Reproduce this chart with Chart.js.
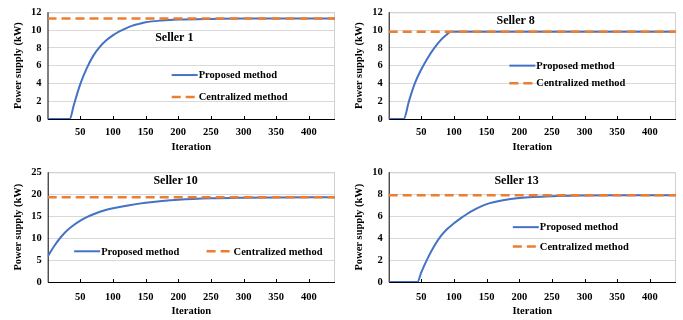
<!DOCTYPE html>
<html>
<head>
<meta charset="utf-8">
<script src="https://cdn.jsdelivr.net/npm/chart.js@4.4.1/dist/chart.umd.min.js"></script>
<style>
  html, body { margin: 0; padding: 0; background: #fff; }
  #wrap { position: relative; width: 683px; height: 320px; overflow: hidden; }
  .cell { position: absolute; }
</style>
</head>
<body>
<div id="wrap">
  <div class="cell" style="left:0;top:0;width:341px;height:160px"><canvas id="c1"></canvas></div>
  <div class="cell" style="left:341px;top:0;width:342px;height:160px"><canvas id="c8"></canvas></div>
  <div class="cell" style="left:0;top:160px;width:341px;height:160px"><canvas id="c10"></canvas></div>
  <div class="cell" style="left:341px;top:160px;width:342px;height:160px"><canvas id="c13"></canvas></div>
</div>
<script>
// - data ---------------------------------------------
const xTicks = [50, 100, 150, 200, 250, 300, 350, 400];
const xMax = 440;

const seller1Iter  = [0, 20, 34, 40, 50, 60, 70, 80, 90, 100, 110, 120, 130, 140, 150, 175, 200, 250, 300, 350, 400, 440];
const seller1Power = [0, 0, 0, 1.5, 3.9, 5.7, 7.1, 8.1, 8.85, 9.4, 9.85, 10.2, 10.5, 10.7, 10.88, 11.08, 11.18, 11.26, 11.3, 11.3, 11.3, 11.3];
const seller1Central = 11.3;

const seller8Iter  = [0, 12, 23, 31, 40, 50, 60, 70, 80, 88, 95, 150, 200, 300, 400, 440];
const seller8Power = [0, 0, 0, 2.0, 4.0, 5.6, 6.9, 8.0, 8.9, 9.45, 9.8, 9.8, 9.8, 9.8, 9.8, 9.8];
const seller8Central = 9.8;

const seller10Iter  = [0, 10, 20, 30, 40, 50, 60, 70, 80, 90, 100, 125, 150, 175, 200, 250, 300, 350, 400, 440];
const seller10Power = [5.8, 8.2, 10.2, 11.8, 13.0, 14.0, 14.8, 15.45, 16.0, 16.45, 16.8, 17.5, 18.05, 18.45, 18.75, 19.08, 19.22, 19.28, 19.3, 19.3];
const seller10Central = 19.3;

const seller13Iter  = [0, 30, 44, 50, 60, 70, 80, 90, 100, 110, 120, 130, 140, 150, 175, 200, 250, 300, 350, 400, 440];
const seller13Power = [0, 0, 0, 0.9, 2.2, 3.3, 4.2, 4.85, 5.35, 5.8, 6.2, 6.55, 6.85, 7.1, 7.45, 7.65, 7.82, 7.88, 7.9, 7.9, 7.9];
const seller13Central = 7.9;

const blue = '#4472C4';
const orange = '#ED7D31';
const fontFamily = '"Liberation Serif", "Times New Roman", serif';

// - plugins ------------------------------------------
// light box on top/right, black axes left/bottom, inward x ticks
const frameBox = {
  id: 'frameBox',
  beforeDatasetsDraw(chart) {
    const { ctx, chartArea: a, scales } = chart;
    ctx.save();
    ctx.strokeStyle = '#d0d0d0';
    ctx.lineWidth = 1;
    ctx.beginPath();
    ctx.moveTo(a.left, a.top + 0.5);
    ctx.lineTo(a.right - 0.5, a.top + 0.5);
    ctx.lineTo(a.right - 0.5, a.bottom);
    ctx.stroke();
    ctx.strokeStyle = '#000';
    ctx.lineWidth = 1;
    ctx.beginPath();
    ctx.moveTo(a.left + 0.5, a.top);
    ctx.lineTo(a.left + 0.5, a.bottom + 0.5);
    ctx.lineTo(a.right, a.bottom + 0.5);
    xTicks.forEach(v => {
      const x = Math.round(scales.x.getPixelForValue(v)) + 0.5;
      ctx.moveTo(x, a.bottom);
      ctx.lineTo(x, a.bottom - 3);
    });
    ctx.stroke();
    ctx.restore();
  }
};

// seller name + legend drawn inside the plot area
const insideText = {
  id: 'insideText',
  afterDraw(chart, args, opts) {
    const { ctx, chartArea: a } = chart;
    const w = a.right - a.left, h = a.bottom - a.top;
    ctx.save();
    ctx.fillStyle = '#000';
    ctx.font = `bold 12px ${fontFamily}`;
    ctx.textAlign = 'center';
    ctx.textBaseline = 'middle';
    ctx.fillText(opts.title, a.left + opts.titleX * w, a.top + opts.titleY * h);

    ctx.font = `bold 10.5px ${fontFamily}`;
    ctx.textAlign = 'left';
    chart.data.datasets.forEach((ds, i) => {
      const p = opts.legend[i];
      const x = a.left + p[0] * w, y = a.top + p[1] * h;
      ctx.strokeStyle = ds.borderColor;
      ctx.lineWidth = ds.borderWidth;
      ctx.setLineDash(ds.borderDash || []);
      ctx.beginPath();
      ctx.moveTo(x, y);
      ctx.lineTo(x + 26, y);
      ctx.stroke();
      ctx.setLineDash([]);
      ctx.fillText(ds.label, x + 27, y + 0.5);
    });
    ctx.restore();
  }
};

// - one panel ----------------------------------------
function makePanel(id, iter, power, central, yMax, yStep, layout) {
  const proposed = iter.map((x, i) => ({ x, y: power[i] }));
  const centralized = [{ x: 0, y: central }, { x: xMax, y: central }];
  return new Chart(document.getElementById(id), {
    type: 'line',
    data: {
      datasets: [
        {
          label: 'Proposed method',
          data: proposed,
          borderColor: blue,
          borderWidth: 2,
          pointRadius: 0,
          cubicInterpolationMode: 'monotone',
          order: 2
        },
        {
          label: 'Centralized method',
          data: centralized,
          borderColor: orange,
          borderWidth: 2.5,
          borderDash: [9, 5],
          pointRadius: 0,
          order: 1
        }
      ]
    },
    options: {
      animation: false,
      responsive: true,
      maintainAspectRatio: false,
      layout: { padding: { top: layout.top, right: layout.right, left: 0, bottom: 0 } },
      scales: {
        x: {
          type: 'linear',
          min: 0,
          max: xMax,
          afterFit: (s) => { s.height = layout.xh; },
          grid: { display: false, drawTicks: false },
          border: { display: false },
          afterBuildTicks: (s) => { s.ticks = [0, ...xTicks].map(v => ({ value: v })); },
          ticks: {
            color: '#000',
            padding: layout.tp,
            maxRotation: 0,
            font: { family: fontFamily, size: 10.5, weight: 'bold' },
            callback: (v) => v === 0 ? '' : v
          },
          title: {
            display: true,
            text: 'Iteration',
            color: '#000',
            padding: { top: 0, bottom: layout.tb },
            font: { family: fontFamily, size: 10.5, weight: 'bold' }
          }
        },
        y: {
          min: 0,
          max: yMax,
          afterFit: (s) => { s.width = layout.yw; },
          grid: { color: '#d9d9d9', drawTicks: false },
          border: { display: false },
          ticks: {
            stepSize: yStep,
            color: '#000',
            padding: 6,
            font: { family: fontFamily, size: 10.5, weight: 'bold' }
          },
          title: {
            display: true,
            text: 'Power supply (kW)',
            color: '#000',
            padding: { top: 12, bottom: 0 },
            font: { family: fontFamily, size: 10.5, weight: 'bold' }
          }
        }
      },
      plugins: {
        legend: { display: false },
        tooltip: { enabled: false },
        insideText: layout.inside
      }
    },
    plugins: [frameBox, insideText]
  });
}

makePanel('c1', seller1Iter, seller1Power, seller1Central, 12, 2, {
  top: 6, right: 6, xh: 41, yw: 47.5, tb: 6, tp: 7,
  inside: { title: 'Seller 1', titleX: 0.441, titleY: 0.244, legend: [[0.432, 0.588], [0.432, 0.794]] }
});
makePanel('c8', seller8Iter, seller8Power, seller8Central, 12, 2, {
  top: 6, right: 7, xh: 41, yw: 47.7, tb: 6, tp: 7,
  inside: { title: 'Seller 8', titleX: 0.442, titleY: 0.082, legend: [[0.42, 0.5], [0.42, 0.665]] }
});
makePanel('c10', seller10Iter, seller10Power, seller10Central, 25, 5, {
  top: 9, right: 6, xh: 38, yw: 47.7, tb: 2, tp: 9,
  inside: { title: 'Seller 10', titleX: 0.445, titleY: 0.082, legend: [[0.092, 0.72], [0.553, 0.72]] }
});
makePanel('c13', seller13Iter, seller13Power, seller13Central, 10, 2, {
  top: 9, right: 7, xh: 38, yw: 47.7, tb: 2, tp: 9,
  inside: { title: 'Seller 13', titleX: 0.445, titleY: 0.082, legend: [[0.432, 0.5], [0.432, 0.677]] }
});
</script>
</body>
</html>
